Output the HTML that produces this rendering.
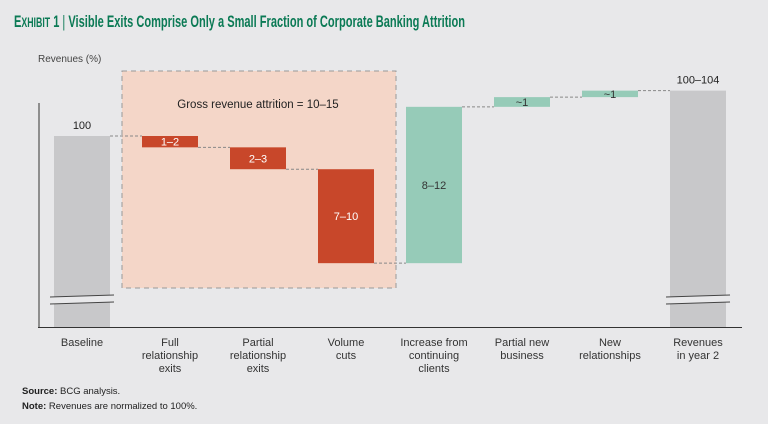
<!DOCTYPE html>
<html><head><meta charset="utf-8"><style>
body{margin:0;background:#e8e8ea;}
svg{display:block;font-family:"Liberation Sans",sans-serif;}
</style></head><body>
<svg id="c" width="768" height="424" viewBox="0 0 768 424">
<rect width="768" height="424" fill="#e8e8ea"/>
<text x="14" y="27" font-size="17" font-weight="bold" fill="#0b7a55" textLength="451" lengthAdjust="spacingAndGlyphs">E<tspan font-size="13.5">XHIBIT</tspan> 1 <tspan font-weight="normal">|</tspan> Visible Exits Comprise Only a Small Fraction of Corporate Banking Attrition</text>
<text x="38" y="62" font-size="10" fill="#444">Revenues (%)</text>
<rect x="122" y="71" width="274" height="217" fill="#f4d6c8" stroke="#999" stroke-dasharray="5,4"/>
<text x="258" y="108" font-size="11.5" fill="#222" text-anchor="middle">Gross revenue attrition = 10–15</text>
<g id="bars"></g>
<line x1="39" y1="103" x2="39" y2="328" stroke="#333"/>
<line x1="38" y1="327.5" x2="742" y2="327.5" stroke="#333"/>
<text x="22" y="394" font-size="9.5" fill="#222"><tspan font-weight="bold">Source:</tspan> BCG analysis.</text>
<text x="22" y="409" font-size="9.5" fill="#222"><tspan font-weight="bold">Note:</tspan> Revenues are normalized to 100%.</text>
</svg>
<script>
const categories=["Baseline","Full relationship exits","Partial relationship exits","Volume cuts","Increase from continuing clients","Partial new business","New relationships","Revenues in year 2"];
const catLines=[["Baseline"],["Full","relationship","exits"],["Partial","relationship","exits"],["Volume","cuts"],["Increase from","continuing","clients"],["Partial new","business"],["New","relationships"],["Revenues","in year 2"]];
const deltas=[100,-1.4,-2.7,-11.6,19.3,1.2,0.8,null];
const valueLabels=["100","1–2","2–3","7–10","8–12","~1","~1","100–104"];
const kinds=["total","neg","neg","neg","pos","pos","pos","total"];

const svg=document.getElementById('c'),g=document.getElementById('bars'),NS="http://www.w3.org/2000/svg";
const x0=82,step=88,bw=56,axisY=327;
const yS=v=>136-(v-100)*8.1;
const xC=i=>x0+i*step;
function mk(t,a){const e=document.createElementNS(NS,t);for(const k in a)e.setAttribute(k,a[k]);return e;}
const col={total:"#c8c8ca",neg:"#c8472a",pos:"#96cbb8"};
let run=0,prevLvl=null;
categories.forEach((c,i)=>{
  let top,bot,lvlEnd;
  if(kinds[i]==="total"){const v=i===0?deltas[0]:run;run=v;top=yS(v);bot=axisY;lvlEnd=v;}
  else{const a=run,b=run+deltas[i];top=yS(Math.max(a,b));bot=yS(Math.min(a,b));run=b;lvlEnd=b;}
  const cx=xC(i);
  const r=mk('rect',{x:cx-bw/2,y:top,width:bw,height:bot-top,fill:col[kinds[i]]});
  
  
  g.appendChild(r);
  if(prevLvl!==null){
    const l=mk('line',{x1:xC(i-1)+bw/2,x2:cx-bw/2,y1:yS(prevLvl),y2:yS(prevLvl),stroke:"#888","stroke-dasharray":"3,2"});
    
    
    g.appendChild(l);
  }
  prevLvl=lvlEnd;
  let ty,fill="#222";
  if(kinds[i]==="total"){ty=top-7;}
  else{ty=(top+bot)/2+4;fill=kinds[i]==="neg"?"#fff":"#333";}
  const t=mk('text',{x:cx,y:ty,"text-anchor":"middle","font-size":"11",fill:fill});
  t.textContent=valueLabels[i];
  
  
  g.appendChild(t);
  if(kinds[i]==="total"){
    [296,303].forEach(y=>{const b=mk('line',{x1:cx-bw/2-4,y1:y+1,x2:cx+bw/2+4,y2:y-1,stroke:"#444","stroke-width":"1"});
    
    
    g.appendChild(b);});
    const gap=mk('polygon',{points:`${cx-bw/2-4},${297} ${cx+bw/2+4},${295} ${cx+bw/2+4},${302} ${cx-bw/2-4},${304}`,fill:"#e8e8ea"});
    g.insertBefore(gap,g.lastChild.previousSibling);
  }
  catLines[i].forEach((s,j)=>{
    const lt=mk('text',{x:cx,y:346+j*13,"text-anchor":"middle","font-size":"11",fill:"#333"});
    lt.textContent=s;
    
    
    g.appendChild(lt);
  });
});
</script>
</body></html>
